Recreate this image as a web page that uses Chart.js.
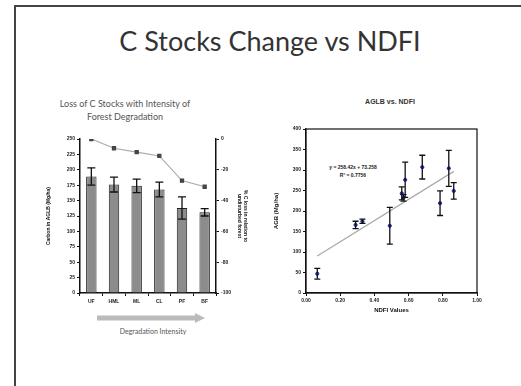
<!DOCTYPE html>
<html>
<head>
<meta charset="utf-8">
<script src="https://cdn.jsdelivr.net/npm/chart.js@4"></script>
<style>
  body { margin: 0; background: #fff; }
  #slide { position: relative; width: 521px; height: 386px; overflow: hidden; background: #fff; }
  .frame-top { position: absolute; left: 14px; top: 5px; width: 507px; height: 2px; background: #444; }
  .frame-left { position: absolute; left: 14px; top: 5px; width: 2px; height: 381px; background: #444; }
  .txt { position: absolute; white-space: nowrap; }
  #mainTitle { left: 0; width: 540px; top: 24px; text-align: center; font: 27px Lato, "Open Sans", sans-serif; color: #333; }
  #leftTitle { left: 30px; width: 190px; top: 97px; text-align: center; font: 9px Lato, sans-serif; color: #555; line-height: 13px; }
  #rightTitle { left: 330px; width: 120px; top: 98px; text-align: center; font: bold 7px "Liberation Sans", sans-serif; color: #333; }
  #degr { left: 98px; width: 110px; top: 327px; text-align: center; font: 7px Lato, sans-serif; color: #555; }
  #eq { left: 318px; width: 70px; top: 163px; text-align: center; font: bold 5px "Liberation Sans", sans-serif; color: #222; line-height: 8px; }
  canvas { position: absolute; }
</style>
</head>
<body>
<div id="slide">
  <div class="frame-top"></div>
  <div class="frame-left"></div>
  <div id="mainTitle" class="txt">C Stocks Change vs NDFI</div>
  <div id="leftTitle" class="txt">Loss of C Stocks with Intensity of<br>Forest Degradation</div>
  <div id="rightTitle" class="txt">AGLB vs. NDFI</div>
  <svg style="position:absolute;left:95px;top:312px" width="115" height="12">
    <line x1="2" y1="6" x2="102" y2="6" stroke="#bbb" stroke-width="5"/>
    <polygon points="100,1 110,6 100,11" fill="#bbb"/>
  </svg>
  <div id="degr" class="txt">Degradation Intensity</div>
  <div id="eq" class="txt">y = 258.42x + 73.258<br>R² = 0.7756</div>
  <canvas id="barChart" width="208" height="185" style="left:42px;top:130px"></canvas>
  <canvas id="scatterChart" width="225" height="195" style="left:270px;top:120px"></canvas>
</div>
<script>
// left chart data
const classes = ['UF', 'HML', 'ML', 'CL', 'PF', 'BF'];
const carbon = [189, 176, 174, 168, 138, 131];
const carbonErr = [14, 12, 11, 12, 18, 6];
const lossPct = [0, -6, -8.5, -11, -27, -31];

// right chart data
const ndfi = [0.066, 0.29, 0.33, 0.49, 0.56, 0.57, 0.58, 0.68, 0.784, 0.835, 0.864];
const agb = [47, 166, 175, 164, 243, 232, 276, 307, 219, 304, 249];
const agbErr = [13, 9, 5, 45, 16, 8, 43, 29, 30, 44, 20];
const slope = 258.42, intercept = 73.258;
const fitRange = [0.066, 0.864];

const tinyFont = { family: 'Liberation Sans', size: 5, weight: 'bold' };

// error bars
var errorBarPlugin = {
  id: 'errorBars',
  afterDatasetsDraw: function (chart) {
    const ctx = chart.ctx;
    chart.data.datasets.forEach(function (ds, i) {
      if (!ds.errors) return;
      const meta = chart.getDatasetMeta(i);
      const yScale = chart.scales[meta.yAxisID];
      meta.data.forEach(function (el, k) {
        const raw = ds.data[k];
        const v = typeof raw === 'object' ? raw.y : raw;
        const top = yScale.getPixelForValue(v + ds.errors[k]);
        const bot = yScale.getPixelForValue(v - ds.errors[k]);
        const cap = ds.capWidth || 3;
        ctx.save();
        ctx.strokeStyle = '#111';
        ctx.lineWidth = 1.3;
        ctx.beginPath();
        ctx.moveTo(el.x, top); ctx.lineTo(el.x, bot);
        ctx.moveTo(el.x - cap, top); ctx.lineTo(el.x + cap, top);
        ctx.moveTo(el.x - cap, bot); ctx.lineTo(el.x + cap, bot);
        ctx.stroke();
        ctx.restore();
      });
    });
  }
};

var boxPlugin = {
  id: 'box',
  afterDraw: function (chart) {
    const a = chart.chartArea, ctx = chart.ctx;
    ctx.save();
    ctx.strokeStyle = '#111';
    ctx.lineWidth = 1.2;
    ctx.strokeRect(a.left, a.top, a.right - a.left, a.bottom - a.top);
    ctx.restore();
  }
};

function axisGrid() {
  return { display: true, drawOnChartArea: false, drawTicks: true, tickLength: 3, color: '#111' };
}

new Chart(document.getElementById('barChart'), {
  data: {
    labels: classes,
    datasets: [
      {
        type: 'line', data: lossPct, yAxisID: 'y1',
        borderColor: '#aaa', borderWidth: 1.2,
        pointStyle: 'rect', pointRadius: 2.2, pointBackgroundColor: '#444', pointBorderColor: '#444',
        order: 0
      },
      {
        type: 'bar', data: carbon, errors: carbonErr, capWidth: 4, yAxisID: 'y',
        backgroundColor: '#8c8c8c', borderColor: '#222', borderWidth: 1,
        barPercentage: 0.46, categoryPercentage: 1, order: 1
      }
    ]
  },
  options: {
    responsive: false, animation: false,
    layout: { padding: { top: 9 } },
    plugins: { legend: { display: false }, tooltip: { enabled: false } },
    scales: {
      x: {
        grid: axisGrid(),
        border: { display: true, color: '#111', width: 1.5 },
        ticks: { font: tinyFont, color: '#222', padding: 3 },
        afterFit: function (s) { s.height = 22; }
      },
      y: {
        position: 'left', min: 0, max: 250,
        grid: axisGrid(),
        border: { display: true, color: '#111', width: 1.5 },
        ticks: { stepSize: 25, font: tinyFont, color: '#222', padding: 2 },
        title: { display: true, text: 'Carbon in AGLB (Mg/ha)', font: tinyFont, color: '#111', padding: 4 },
        afterFit: function (s) { s.width = 38; }
      },
      y1: {
        position: 'right', min: -100, max: 0,
        grid: axisGrid(),
        border: { display: true, color: '#111', width: 1.5 },
        ticks: { stepSize: 20, font: tinyFont, color: '#222', padding: 2 },
        title: { display: true, text: ['% C loss in relation to', 'undisturbed forest'], font: tinyFont, color: '#111', padding: 2 },
        afterFit: function (s) { s.width = 34; }
      }
    }
  },
  plugins: [errorBarPlugin]
});

new Chart(document.getElementById('scatterChart'), {
  data: {
    datasets: [
      {
        type: 'line',
        data: fitRange.map(function (x) { return { x: x, y: slope * x + intercept }; }),
        borderColor: '#aaa', borderWidth: 1.3, pointRadius: 0, order: 1
      },
      {
        type: 'scatter',
        data: ndfi.map(function (x, i) { return { x: x, y: agb[i] }; }),
        errors: agbErr, capWidth: 3,
        pointStyle: 'circle', pointRadius: 1.6, backgroundColor: '#1f2fa8', borderColor: '#1f2fa8', order: 0
      }
    ]
  },
  options: {
    responsive: false, animation: false,
    layout: { padding: { top: 9, right: 18 } },
    plugins: { legend: { display: false }, tooltip: { enabled: false } },
    scales: {
      x: {
        type: 'linear', min: 0, max: 1,
        grid: axisGrid(),
        border: { display: true, color: '#111', width: 1.2 },
        ticks: { stepSize: 0.2, font: tinyFont, color: '#222', padding: 2,
          callback: function (v) { return v.toFixed(2); } },
        title: { display: true, text: 'NDFI Values', font: { family: 'Liberation Sans', size: 6, weight: 'bold' }, color: '#111', padding: 1 },
        afterFit: function (s) { s.height = 22; }
      },
      y: {
        min: 0, max: 400,
        grid: axisGrid(),
        border: { display: true, color: '#111', width: 1.2 },
        ticks: { stepSize: 50, font: tinyFont, color: '#222', padding: 2 },
        title: { display: true, text: 'AGB (Mg/ha)', font: { family: 'Liberation Sans', size: 6, weight: 'bold' }, color: '#111', padding: 3 },
        afterFit: function (s) { s.width = 36; }
      }
    }
  },
  plugins: [errorBarPlugin, boxPlugin]
});
</script>
</body>
</html>
